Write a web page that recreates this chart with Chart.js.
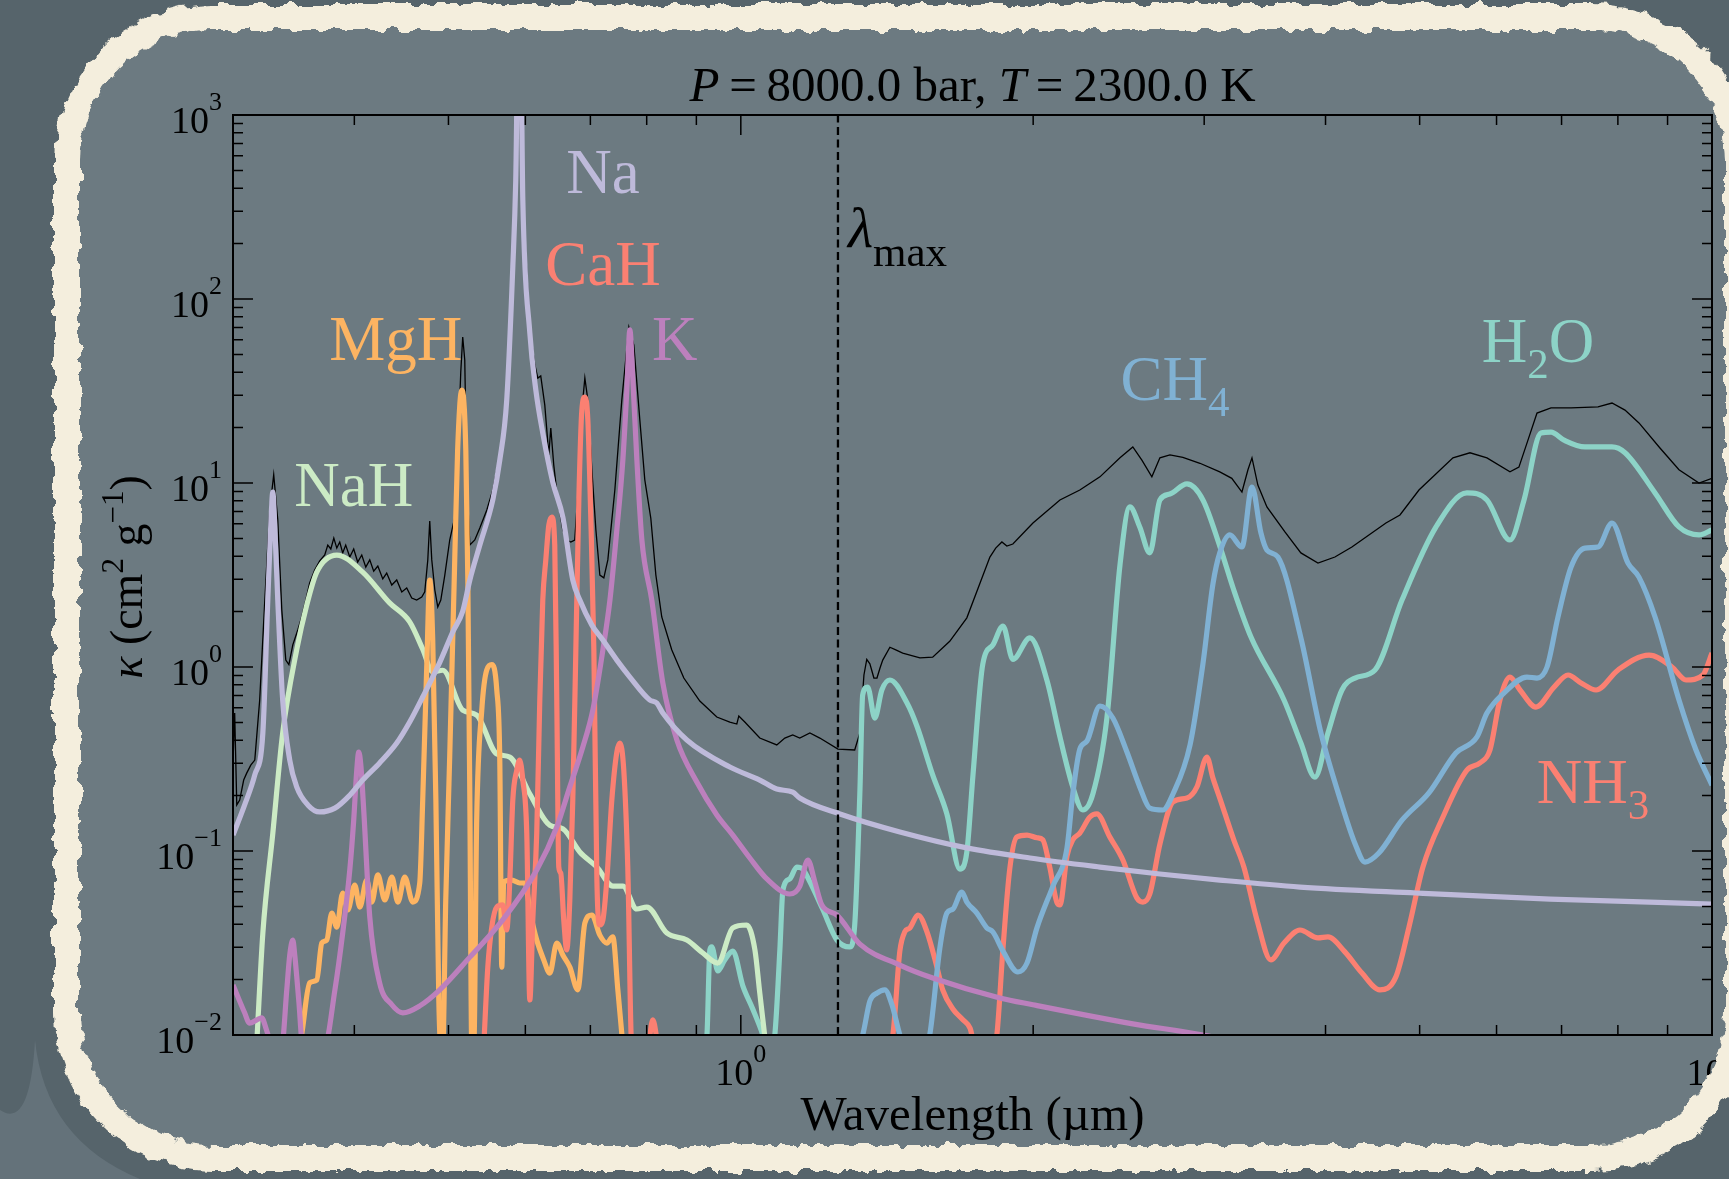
<!DOCTYPE html>
<html>
<head>
<meta charset="utf-8">
<title>Opacidades</title>
<script src="https://cdn.jsdelivr.net/npm/chart.js@4.4.1/dist/chart.umd.min.js"></script>
<style>
  html, body { margin: 0; padding: 0; background: #56646b; }
  #escena { position: relative; width: 1729px; height: 1179px; overflow: hidden; }
  #fondo, #borde, #opacidadChart { position: absolute; left: 0; top: 0; }
  #borde { pointer-events: none; }
</style>
</head>
<body>
<div id="escena">
  <svg id="fondo" width="1729" height="1179">
    <path d="M35 1040 Q45 1140 140 1179 L0 1179 L0 1110 Q30 1130 35 1040 Z" fill="#64727a"/>
    <rect x="67" y="17" width="1671" height="1141" rx="145" ry="145" fill="#6c7a81"/>
  </svg>
  <canvas id="opacidadChart" width="1729" height="1179"></canvas>
  <svg id="borde" width="1729" height="1179">
    <defs>
      <filter id="rugoso" x="-3%" y="-3%" width="106%" height="106%">
        <feTurbulence type="fractalNoise" baseFrequency="0.07" numOctaves="3" seed="5" result="ruido"/>
        <feDisplacementMap in="SourceGraphic" in2="ruido" scale="12" xChannelSelector="R" yChannelSelector="G"/>
      </filter>
    </defs>
    <rect x="67" y="17" width="1671" height="1141" rx="145" ry="145" fill="none"
          stroke="#f4eedd" stroke-width="26" filter="url(#rugoso)"/>
  </svg>
</div>
<script>
// ejes
const xRango = [0.3, 10];
const yRango = [1e-2, 1e3];
const xExpon = [0, 1];
const yExpon = [-2, -1, 0, 1, 2, 3];
const xMenores = [0.3, 0.4, 0.5, 0.6, 0.7, 0.8, 0.9, 2, 3, 4, 5, 6, 7, 8, 9];
const lambdaMax = 1.259;

// total (linea negra)
const totLong = [0.2998,0.3012,0.3027,0.3048,0.3077,0.3099,0.3129,0.3159,0.3196,0.3235,
  0.3273,0.3304,0.3336,0.3368,0.34,0.3425,0.3457,0.3498,0.3531,0.3565,
  0.3598,0.3641,0.3685,0.3729,0.3756,0.3783,0.381,0.3837,0.3864,0.3891,
  0.3919,0.3957,0.3994,0.4032,0.4071,0.411,0.4149,0.4188,0.4229,0.4279,
  0.4319,0.4371,0.4423,0.4476,0.4529,0.4583,0.4637,0.4693,0.4727,0.4761,
  0.4783,0.4806,0.4841,0.4875,0.491,0.4957,0.5015,0.5075,0.5123,0.5148,
  0.5172,0.5197,0.5222,0.526,0.5322,0.5386,0.5476,0.5554,0.5647,0.5741,
  0.5824,0.5893,0.5936,0.5964,0.6064,0.6137,0.618,0.6223,0.6283,0.6343,
  0.6373,0.6418,0.6479,0.6557,0.6619,0.6683,0.6745,0.6811,0.686,0.6909,
  0.6958,0.7025,0.7092,0.7159,0.7227,0.7296,0.7418,0.7542,0.7669,0.776,
  0.7871,0.7964,0.8078,0.8176,0.8291,0.8489,0.8736,0.9074,0.9447,0.9743,
  0.9906,0.9953,1.0095,1.046,1.089,1.11,1.131,1.15,1.178,1.206,
  1.259,1.31,1.326,1.339,1.348,1.358,1.371,1.381,1.391,1.4,
  1.424,1.444,1.468,1.529,1.576,1.641,1.709,1.805,1.83,1.857,
  1.879,1.906,1.999,2.131,2.234,2.343,2.457,2.533,2.588,2.65,
  2.701,2.766,2.852,2.97,3.113,3.203,3.281,3.328,3.36,3.407,
  3.481,3.633,3.773,3.929,4.09,4.258,4.616,4.772,4.992,5.411,
  5.634,5.865,6.194,6.327,6.464,6.604,6.827,7.159,7.632,7.889,
  8.136,8.41,8.839,9.247,9.696,10];
const totKappa = [0.275,0.562,0.178,0.189,0.243,0.265,0.293,0.312,0.662,2.31,
  7.13,11.1,6.29,2.04,1.09,1.03,1.32,1.59,1.87,2.31,
  2.86,3.37,3.77,4.06,4.6,4.38,5.02,4.43,4.78,4.17,
  4.6,3.96,4.38,3.72,4.06,3.49,3.82,3.32,3.54,3.01,
  3.24,2.79,2.97,2.56,2.69,2.37,2.31,2.4,2.56,3.82,
  6.21,3.82,2.62,2.12,2.31,3.16,4.9,6.5,20,40,
  62.1,46.6,10.4,4.6,4.9,5.69,7.13,9.16,14.2,29,
  153,2000,2000,354,67.9,43.8,37.2,38.2,26.5,14.2,
  19.9,12.5,8.09,5.56,4.9,4.78,4.9,10.4,24.9,37.2,
  28.3,11.8,5.56,3.16,3.05,3.82,9.16,28.3,70.4,56.2,
  22,10.4,6.45,3.16,1.87,1.24,0.871,0.653,0.535,0.502,
  0.49,0.542,0.502,0.411,0.377,0.411,0.427,0.411,0.438,0.411,
  0.358,0.354,0.438,0.905,1.1,1.04,0.871,0.871,0.988,1.09,
  1.28,1.24,1.19,1.12,1.13,1.38,1.85,3.96,4.43,4.78,
  4.54,4.66,6.06,8.09,9.16,10.8,13.7,15.7,13.3,10.8,
  13.7,14.2,13.8,12.8,11.5,10.6,8.93,11.8,13.7,9.75,
  7.41,5.42,4.17,3.67,3.96,4.49,6.06,6.7,9.16,13.7,
  14.6,13.7,11.5,12.2,17.1,24,25.6,25.6,25.9,27.2,
  24.9,21.2,15.5,11.8,10,10.6];

// Na
const naLong = [0.300,0.3084,0.3159,0.322,0.3258,0.3281,0.3297,0.3312,0.3336,0.3375,
  0.3432,0.3489,0.3582,0.3685,0.382,0.3957,0.408,0.4247,0.4423,0.4561,
  0.4704,0.4898,0.5051,0.5172,0.526,0.5386,0.5554,0.5647,0.5741,0.5824,
  0.5865,0.5893,0.5936,0.5964,0.6064,0.6151,0.6253,0.6403,0.6557,0.6714,
  0.6827,0.7025,0.7211,0.7453,0.7687,0.8058,0.8194,0.8312,0.8799,0.9743,
  1.046,1.089,1.131,1.150,1.265,1.458,1.709,1.985,2.343,2.701,
  3.113,3.765,4.957,6.811,10];
const naKappa = [0.122,0.178,0.259,0.438,2.31,5.91,8.93,5.91,2.31,0.662,
  0.312,0.223,0.178,0.163,0.171,0.201,0.243,0.301,0.386,0.502,
  0.687,1.06,1.55,2.01,2.97,4.6,8.09,13.3,28.3,149,
  443,2000,2000,345,65.3,32,18.7,10.1,6.53,2.97,
  2.31,1.69,1.4,1.09,0.882,0.662,0.637,0.562,0.401,0.286,
  0.243,0.217,0.209,0.194,0.159,0.127,0.104,0.0916,0.0818,0.075,
  0.0695,0.0637,0.0591,0.0548,0.0515];

// NaH
const nahLong = [0.3175,0.322,0.3297,0.3375,0.3489,0.3573,0.3659,0.3837,0.408,0.4349,
  0.4561,0.4704,0.4817,0.4933,0.5172,0.5346,0.5607,0.5783,0.6064,0.6358,
  0.6557,0.6827,0.7109,0.7383,0.756,0.7814,0.8002,0.8392,0.8799,0.9139,
  0.9469,0.9812,1.014,1.034,1.046,1.061];
const nahKappa = [0.0094,0.0358,0.125,0.438,1.24,2.17,3.28,4.06,3.28,2.23,
  1.76,1.25,0.94,0.96,0.583,0.548,0.337,0.324,0.204,0.138,
  0.132,0.0988,0.0818,0.0645,0.0645,0.0484,0.0496,0.0358,0.0328,0.0279,
  0.0246,0.0382,0.0396,0.029,0.0169,0.0088];

// MgH
const mghLong = [0.3514,0.353,0.3598,0.3659,0.3703,0.3747,0.3792,0.3837,0.3891,0.3938,
  0.4004,0.4052,0.4119,0.4169,0.4229,0.43,0.4372,0.4435,0.4508,0.4594,
  0.4671,0.4704,0.4749,0.4783,0.4817,0.4853,0.4887,0.491,0.4933,0.4968,
  0.5015,0.5075,0.511,0.516,0.521,0.5235,0.526,0.5284,0.531,0.5346,
  0.5411,0.5475,0.5541,0.5607,0.5647,0.5674,0.570,0.581,0.592,0.5991,
  0.6077,0.6164,0.6267,0.6358,0.6464,0.6557,0.6667,0.6794,0.6909,0.7025,
  0.7159,0.7278,0.7383,0.7471,0.756];
const mghKappa = [0.0088,0.01,0.0192,0.0199,0.0316,0.0328,0.046,0.0386,0.0591,0.0478,
  0.0653,0.0496,0.0695,0.0528,0.0741,0.0542,0.0722,0.0528,0.0722,0.0528,
  0.067,0.189,1.0,2.97,1.4,0.189,0.0155,0.0088,0.0088,0.0542,
  0.328,3.82,15.1,32,15.1,2.97,0.189,0.0088,0.0088,0.147,
  0.583,0.963,1.03,0.75,0.312,0.0234,0.0679,0.0695,0.067,0.067,
  0.0449,0.0328,0.0256,0.0217,0.0316,0.0272,0.0234,0.0176,0.0406,0.0449,
  0.0349,0.0316,0.0341,0.0176,0.0088];

// CaH
const cahLong = [0.5437,0.5489,0.5541,0.5607,0.5687,0.5741,0.5783,0.5824,0.5879,0.592,
  0.5964,0.602,0.6064,0.6107,0.6164,0.6209,0.6253,0.6298,0.6343,0.6389,
  0.6433,0.6464,0.6495,0.6525,0.6572,0.6619,0.6667,0.6714,0.6763,0.6811,
  0.686,0.6909,0.6958,0.7008,0.7058,0.7109,0.7159,0.7211,0.7278,0.7365,
  0.7453,0.7506,0.7577,0.7649,0.7722,0.8021,0.8117,0.8214];
const cahKappa = [0.0088,0.0234,0.0386,0.0496,0.0509,0.0372,0.0695,0.189,0.275,0.312,
  0.243,0.125,0.0155,0.0422,0.125,0.662,2.31,3.82,5.91,6.53,
  4.6,0.662,0.0818,0.0759,0.0422,0.029,0.0542,0.189,1.24,8.09,
  24.9,29.3,22,6.29,1.24,0.0695,0.0396,0.0422,0.0695,0.189,
  0.345,0.386,0.275,0.0818,0.0088,0.0088,0.0121,0.0088];

// K
const kLong = [0.300,0.3084,0.312,0.3175,0.3211,0.3249,0.3289,0.3368,0.3408,0.3432,
  0.3457,0.3473,0.3506,0.3539,0.3729,0.382,0.3891,0.3957,0.3994,0.4023,
  0.4042,0.4062,0.409,0.4149,0.4247,0.4372,0.4487,0.4671,0.4898,0.526,
  0.5687,0.6164,0.6464,0.6667,0.6876,0.7041,0.7211,0.7332,0.7453,0.756,
  0.7632,0.7687,0.7742,0.7816,0.7909,0.8097,0.8312,0.8593,0.901,0.9447,
  0.9812,1.0216,1.0636,1.1233,1.1503,1.1722,1.1919,1.2118,1.2557,1.3264,
  1.4578,1.5763,1.848,1.999,2.533,2.991,3.344];
const kKappa = [0.0187,0.0132,0.0116,0.0121,0.0124,0.0106,0.0088,0.0088,0.0176,0.0272,
  0.0328,0.0272,0.0155,0.0088,0.0088,0.0176,0.0358,0.0788,0.147,0.275,
  0.345,0.293,0.167,0.0438,0.0192,0.0146,0.0132,0.0144,0.0176,0.0265,
  0.0422,0.0788,0.135,0.223,0.367,0.583,1.24,2.31,5.56,13.3,
  32,67.9,36.3,13.3,4.9,2.31,0.819,0.401,0.237,0.157,
  0.122,0.0916,0.0705,0.0584,0.0645,0.0893,0.0679,0.0509,0.0449,0.0312,
  0.024,0.0204,0.0159,0.0146,0.0115,0.01,0.0088];

// H2O
const h2oLong = [0.916,0.9226,0.9292,0.9335,0.9469,0.9627,0.9812,1.0048,1.029,1.0536,
  1.061,1.0763,1.084,1.097,1.105,1.123,1.142,1.158,1.178,1.214,
  1.256,1.295,1.31,1.326,1.335,1.351,1.374,1.397,1.424,1.483,
  1.518,1.576,1.63,1.681,1.709,1.734,1.775,1.818,1.862,1.906,
  1.985,2.066,2.131,2.197,2.25,2.304,2.382,2.457,2.515,2.575,
  2.637,2.701,2.766,2.88,2.991,3.113,3.218,3.351,3.625,3.773,
  3.901,4.023,4.159,4.289,4.498,4.795,5.198,5.593,5.865,6.194,
  6.404,6.667,6.827,7.041,7.4,7.889,8.136,8.737,9.247,9.696,10];
const h2oKappa = [0.0088,0.0098,0.029,0.0301,0.0223,0.0256,0.0286,0.0185,0.0138,0.01,
  0.0088,0.0088,0.01,0.029,0.0614,0.0705,0.0818,0.0798,0.0679,0.0484,
  0.0328,0.0301,0.0396,0.204,0.705,0.778,0.528,0.75,0.85,0.637,
  0.478,0.259,0.159,0.0798,0.0988,0.259,1.04,1.32,1.67,1.1,
  1.44,0.85,0.417,0.223,0.167,0.204,0.528,3.58,7.41,5.77,
  4.17,8.09,8.71,9.88,8.09,4.54,2.62,1.46,0.662,0.386,
  0.252,0.438,0.75,0.871,0.963,2.31,5.77,8.83,8.09,4.9,
  8.09,18.7,18.9,17.1,15.7,15.7,14.6,8.83,5.77,5.22,5.56];

// CH4
const ch4Long = [1.320,1.335,1.358,1.381,1.407,1.431,1.458,1.472,1.551,1.565,
  1.603,1.63,1.654,1.689,1.709,1.75,1.792,1.818,1.862,1.929,
  1.971,2.018,2.096,2.167,2.197,2.234,2.272,2.343,2.416,2.498,
  2.575,2.637,2.72,2.786,2.901,2.991,3.063,3.113,3.188,3.281,
  3.36,3.432,3.481,3.573,3.773,3.957,4.159,4.289,4.392,4.539,
  4.795,5.111,5.449,5.728,5.865,6.106,6.448,6.604,6.763,6.941,
  7.159,7.4,7.632,7.889,8.194,8.41,8.737,9.247,9.627,10];
const ch4Kappa = [0.0088,0.01,0.0153,0.0169,0.0176,0.0146,0.01,0.0088,0.0088,0.01,
  0.0297,0.046,0.0484,0.0598,0.0528,0.046,0.0382,0.0363,0.0286,0.022,
  0.0246,0.0382,0.0645,0.104,0.204,0.358,0.396,0.614,0.528,0.345,
  0.223,0.171,0.167,0.204,0.377,1.04,2.83,4.17,5.22,4.49,
  9.51,5.35,4.32,3.96,1.44,0.438,0.178,0.11,0.0871,0.0975,
  0.147,0.207,0.341,0.417,0.562,0.722,0.882,0.871,1.0,1.87,
  3.49,4.43,4.49,6.06,3.67,3.08,1.87,0.662,0.354,0.228];

// NH3
const nh3Long = [1.42,1.434,1.458,1.475,1.493,1.522,1.555,1.592,1.614,1.654,
  1.693,1.722,1.742,1.822,1.835,1.862,1.892,1.924,1.971,2.018,
  2.046,2.08,2.115,2.131,2.167,2.197,2.234,2.288,2.326,2.399,
  2.474,2.557,2.594,2.637,2.701,2.786,2.88,2.949,3.019,3.063,
  3.113,3.218,3.296,3.4,3.514,3.625,3.765,3.929,4.023,4.188,
  4.361,4.55,4.726,4.875,5.039,5.284,5.593,5.769,5.907,6.048,
  6.194,6.343,6.587,6.876,7.108,7.331,7.597,8.002,8.613,9.095,
  9.402,9.788,10];
const nh3Kappa = [0.0088,0.01,0.0286,0.0363,0.0382,0.0449,0.0363,0.0234,0.0176,0.0138,
  0.0121,0.0109,0.0088,0.0088,0.01,0.0297,0.0798,0.119,0.122,0.118,
  0.115,0.0818,0.0528,0.0509,0.0939,0.115,0.125,0.153,0.159,0.119,
  0.0893,0.0556,0.0528,0.0584,0.109,0.185,0.194,0.223,0.324,0.249,
  0.194,0.115,0.0818,0.0422,0.0256,0.0316,0.0372,0.0337,0.0341,0.0283,
  0.0217,0.0176,0.0207,0.0386,0.0818,0.153,0.275,0.301,0.354,0.662,
  0.882,0.75,0.606,0.778,0.905,0.819,0.75,0.963,1.16,1.0,
  0.85,0.905,1.19];

const colores = { na: '#bebada', nah: '#ccebc5', mgh: '#fdb462', cah: '#fb8072',
  k: '#bc80bd', h2o: '#8dd3c7', ch4: '#80b1d3', nh3: '#fb8072' };

// etiquetas de especies, ancladas en coordenadas de datos
const etiquetas = [
  { partes: [['Na']], color: colores.na, lon: 0.7211, kap: 377 },
  { partes: [['CaH']], color: colores.cah, lon: 0.7211, kap: 119 },
  { partes: [['MgH']], color: colores.mgh, lon: 0.4413, kap: 46.6 },
  { partes: [['K']], color: colores.k, lon: 0.855, kap: 46.6 },
  { partes: [['NaH']], color: colores.nah, lon: 0.3994, kap: 7.5 },
  { partes: [['CH'], ['4', 'sub']], color: colores.ch4, lon: 2.80, kap: 28.3 },
  { partes: [['H'], ['2', 'sub'], ['O']], color: colores.h2o, lon: 6.62, kap: 45.5 },
  { partes: [['NH'], ['3', 'sub']], color: colores.nh3, lon: 7.54, kap: 0.182 }
];

const serif = '"Liberation Serif", "Times New Roman", serif';
const fuente = (tam, estilo) => (estilo ? estilo + ' ' : '') + tam + 'px ' + serif;

function pares(lon, kap) {
  return lon.map((x, i) => ({ x: x, y: kap[i] }));
}

function curva(lon, kap, color, orden) {
  return { data: pares(lon, kap), borderColor: color, borderWidth: 5.2, pointRadius: 0,
    cubicInterpolationMode: 'monotone', fill: false, clip: 0, order: orden };
}

// texto con partes (sub/superindices), alineado a x
function escribe(ctx, partes, x, y, alinear) {
  let total = 0;
  partes.forEach(p => { ctx.font = p[1]; total += ctx.measureText(p[0]).width; });
  let cx = alinear === 'center' ? x - total / 2 : (alinear === 'right' ? x - total : x);
  ctx.textAlign = 'left';
  ctx.textBaseline = 'alphabetic';
  partes.forEach(p => {
    ctx.font = p[1];
    ctx.fillText(p[0], cx, y + (p[2] || 0));
    cx += ctx.measureText(p[0]).width;
  });
}

const expTexto = e => (e < 0 ? '\u2212' + Math.abs(e) : String(e));

const decoracion = {
  id: 'decoracion',
  afterDatasetsDraw(chart) {
    const { ctx, chartArea: a, scales } = chart;
    const sx = scales.x, sy = scales.y;
    ctx.save();

    // ticks hacia dentro en los cuatro lados
    const yMenores = [];
    for (let e = -2; e < 3; e++) for (let m = 2; m <= 9; m++) yMenores.push(m * Math.pow(10, e));
    ctx.strokeStyle = '#000';
    ctx.lineWidth = 1.5;
    ctx.beginPath();
    const tickX = (v, largo) => {
      const p = sx.getPixelForValue(v);
      ctx.moveTo(p, a.bottom); ctx.lineTo(p, a.bottom - largo);
      ctx.moveTo(p, a.top); ctx.lineTo(p, a.top + largo);
    };
    const tickY = (v, largo) => {
      const p = sy.getPixelForValue(v);
      ctx.moveTo(a.left, p); ctx.lineTo(a.left + largo, p);
      ctx.moveTo(a.right, p); ctx.lineTo(a.right - largo, p);
    };
    xExpon.forEach(e => tickX(Math.pow(10, e), 20));
    xMenores.forEach(v => tickX(v, 10));
    yExpon.forEach(e => tickY(Math.pow(10, e), 20));
    yMenores.forEach(v => tickY(v, 10));
    ctx.stroke();
    ctx.lineWidth = 2;
    ctx.strokeRect(a.left, a.top, a.right - a.left, a.bottom - a.top);

    // etiquetas de ticks
    ctx.fillStyle = '#000';
    yExpon.forEach(e => {
      const p = sy.getPixelForValue(Math.pow(10, e));
      escribe(ctx, [['10', fuente(38)], [expTexto(e), fuente(26), -23]], a.left - 11, p + 18, 'right');
    });
    xExpon.forEach(e => {
      const p = sx.getPixelForValue(Math.pow(10, e));
      escribe(ctx, [['10', fuente(38)], [expTexto(e), fuente(26), -23]], p, a.bottom + 50, 'center');
    });

    // titulo y ejes
    const f48 = fuente(49), i48 = fuente(49, 'italic');
    escribe(ctx, [['P', i48], ['\u2009=\u2009', f48], ['8000.0 bar, ', f48], ['T', i48], ['\u2009=\u2009', f48], ['2300.0 K', f48]],
      (a.left + a.right) / 2, a.top - 14, 'center');
    escribe(ctx, [['Wavelength (\u00b5m)', fuente(49)]], (a.left + a.right) / 2, a.bottom + 95, 'center');
    ctx.save();
    ctx.translate(a.left - 91, (a.top + a.bottom) / 2 + 2);
    ctx.rotate(-Math.PI / 2);
    escribe(ctx, [['\u03ba', fuente(46, 'italic')], [' (cm', fuente(46)], ['2', fuente(31), -19],
      [' g', fuente(46)], ['\u22121', fuente(31), -19], [')', fuente(46)]], 0, 0, 'center');
    ctx.restore();

    // lambda max
    escribe(ctx, [['\u03bb', fuente(58, 'italic')], ['max', fuente(43), 19]],
      sx.getPixelForValue(1.289), sy.getPixelForValue(192), 'left');

    // especies
    etiquetas.forEach(et => {
      const partes = et.partes.map(p => p[1] === 'sub' ? [p[0], fuente(43), 16] : [p[0], fuente(63), 0]);
      ctx.fillStyle = et.color;
      escribe(ctx, partes, sx.getPixelForValue(et.lon), sy.getPixelForValue(et.kap), 'center');
    });
    ctx.restore();
  }
};

const ctx = document.getElementById('opacidadChart').getContext('2d');

const opacidadChart = new Chart(ctx, {
  type: 'line',
  data: {
    datasets: [
      { data: [{ x: lambdaMax, y: yRango[0] }, { x: lambdaMax, y: yRango[1] }], borderColor: '#000',
        borderWidth: 2.3, borderDash: [8, 4.5], pointRadius: 0, clip: 0, order: 0 },
      curva(naLong, naKappa, colores.na, 1),
      curva(kLong, kKappa, colores.k, 2),
      curva(cahLong, cahKappa, colores.cah, 3),
      curva(mghLong, mghKappa, colores.mgh, 4),
      curva(nahLong, nahKappa, colores.nah, 5),
      curva(ch4Long, ch4Kappa, colores.ch4, 6),
      curva(nh3Long, nh3Kappa, colores.nh3, 7),
      curva(h2oLong, h2oKappa, colores.h2o, 8),
      { data: pares(totLong, totKappa), borderColor: '#000', borderWidth: 1.3, pointRadius: 0,
        tension: 0, fill: false, clip: 0, order: 20 }
    ]
  },
  options: {
    responsive: false,
    animation: false,
    events: [],
    layout: { padding: { left: 233, right: 17, top: 115, bottom: 144 } },
    plugins: { legend: { display: false }, tooltip: { enabled: false }, title: { display: false } },
    scales: {
      x: { type: 'logarithmic', min: xRango[0], max: xRango[1],
        grid: { display: false }, border: { display: false }, ticks: { display: false },
        afterFit: s => { s.height = 0; } },
      y: { type: 'logarithmic', min: yRango[0], max: yRango[1],
        grid: { display: false }, border: { display: false }, ticks: { display: false },
        afterFit: s => { s.width = 0; } }
    }
  },
  plugins: [decoracion]
});
</script>
</body>
</html>
